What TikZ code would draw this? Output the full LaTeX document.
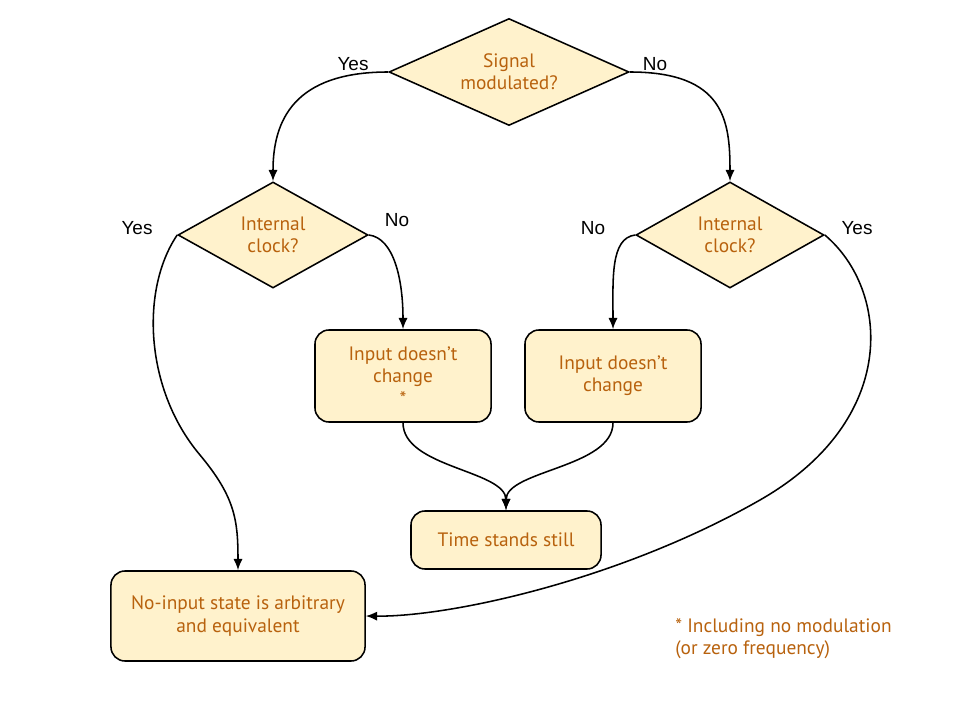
\documentclass[tikz,border=0pt]{standalone}
\usepackage{fontspec}
\newfontfamily\boxfont{PT Sans}
\newfontfamily\lblfont{Liberation Sans}
\usetikzlibrary{shapes.geometric,arrows.meta}
\definecolor{boxfill}{HTML}{FFF2CC}
\definecolor{boxtext}{HTML}{B8620E}
\begin{document}
\begin{tikzpicture}[x=0.025cm,y=-0.025cm,
  base/.style={draw=black,line width=1.1pt,fill=boxfill,text=boxtext,
    font=\boxfont\fontsize{13.8}{15.8}\selectfont,align=center,inner sep=0pt},
  dia/.style={base,diamond,aspect=2.2},
  rbox/.style={base,rectangle,rounded corners=10pt},
  lbl/.style={font=\lblfont\fontsize{13.5}{15}\selectfont,text=black},
  conn/.style={line width=1.1pt,-{Latex[length=8pt,width=6.5pt]}}]
\useasboundingbox (0,0) rectangle (960,720);
\node[dia,minimum width=6cm,minimum height=2.675cm] (d1) at (509,72) {Signal\\modulated?};
\node[dia,minimum width=4.75cm,minimum height=2.65cm] (d2) at (273,235) {Internal\\clock?};
\node[dia,minimum width=4.7cm,minimum height=2.65cm] (d3) at (730,235) {Internal\\clock?};
\node[rbox,minimum width=4.4cm,minimum height=2.3cm] (a) at (403,376) {Input doesn’t\\change\\*};
\node[rbox,minimum width=4.4cm,minimum height=2.3cm] (b) at (613,376) {Input doesn’t\\change};
\node[rbox,minimum width=4.75cm,minimum height=1.45cm] (c) at (506,540) {Time stands still};
\node[rbox,minimum width=6.35cm,minimum height=2.25cm] (d) at (238,616) {No-input state is arbitrary\\and equivalent};
\node[anchor=west,align=left,text=boxtext,inner sep=0pt,font=\boxfont\fontsize{13.8}{15.8}\selectfont] (fn) at (675,639) {* Including no modulation\\(or zero frequency)};
\node[lbl] (l1) at (353,64) {Yes};
\node[lbl] (l2) at (655,64) {No};
\node[lbl] (l3) at (137,228) {Yes};
\node[lbl] (l4) at (397,220) {No};
\node[lbl] (l5) at (593,228) {No};
\node[lbl] (l6) at (857,228) {Yes};
\draw[conn] (d1.west) .. controls +(-95,0) and +(0,-60) .. (d2.north);
\draw[conn] (d1.east) .. controls +(95,0) and +(0,-60) .. (d3.north);
\draw[conn] (d2.west) .. controls (140,290) and (145,390) .. (200,455) .. controls (235,497) and (238,520) .. (d.north);
\draw[conn] (d2.east) .. controls +(25,3) and +(0,-50) .. (a.north);
\draw[conn] (d3.west) .. controls +(-25,3) and +(0,-50) .. (b.north);
\draw[conn] (d3.east) .. controls (890,290) and (900,420) .. (760,500) .. controls (620,580) and (450,617) .. (d.east);
\draw[conn] (a.south) .. controls +(0,45) and +(0,-40) .. (c.north);
\draw[conn] (b.south) .. controls +(0,45) and +(0,-40) .. (c.north);
\end{tikzpicture}
\end{document}
